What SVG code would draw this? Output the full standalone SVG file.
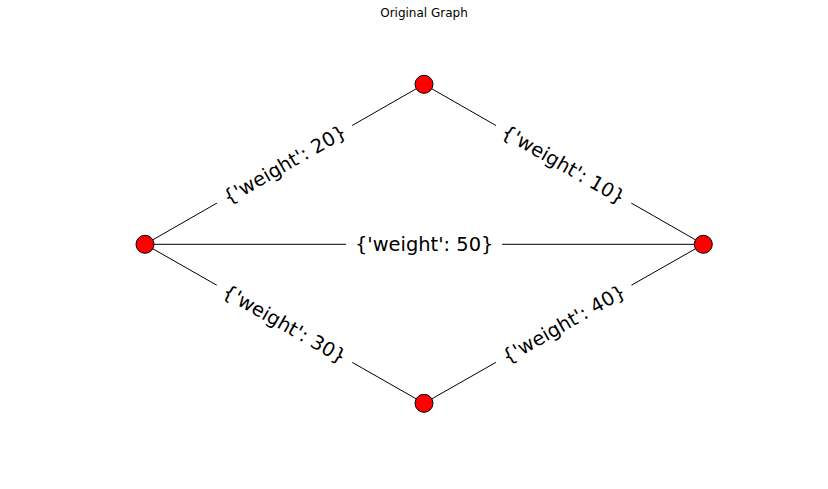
<svg xmlns="http://www.w3.org/2000/svg" width="828" height="489" viewBox="0 0 828 489">
<style>
.edge{stroke:#000;stroke-width:1;fill:none}
.node{fill:#ff0000;stroke:#000;stroke-width:1}
.lbl{font-family:"DejaVu Sans",sans-serif;font-size:19.44px;fill:#000;text-anchor:middle}
.box{fill:#fff;stroke:none}
.title{font-family:"DejaVu Sans",sans-serif;font-size:12px;fill:#000;text-anchor:middle}
</style>
<rect width="828" height="489" fill="#fff"/>
<text class="title" x="424" y="17">Original Graph</text>
<g id="connectors">
<line class="edge" x1="145" y1="244.3" x2="424" y2="84.3"/>
<line class="edge" x1="424" y1="84.3" x2="703.3" y2="244.3"/>
<line class="edge" x1="145" y1="244.3" x2="703.3" y2="244.3"/>
<line class="edge" x1="145" y1="244.3" x2="424" y2="403.3"/>
<line class="edge" x1="424" y1="403.3" x2="703.3" y2="244.3"/>
</g>
<g id="edge-labels">
<g transform="translate(284.5,164.3) rotate(-29.83)"><rect class="box" x="-78" y="-13" width="156" height="26"/><text class="lbl" x="0" y="7">{'weight': 20}</text></g>
<g transform="translate(563.65,164.3) rotate(29.81)"><rect class="box" x="-78" y="-13" width="156" height="26"/><text class="lbl" x="0" y="7">{'weight': 10}</text></g>
<g transform="translate(424.15,244.3)"><rect class="box" x="-78" y="-13" width="156" height="26"/><text class="lbl" x="0" y="7">{'weight': 50}</text></g>
<g transform="translate(284.5,323.8) rotate(29.68)"><rect class="box" x="-78" y="-13" width="156" height="26"/><text class="lbl" x="0" y="7">{'weight': 30}</text></g>
<g transform="translate(563.65,323.8) rotate(-29.66)"><rect class="box" x="-78" y="-13" width="156" height="26"/><text class="lbl" x="0" y="7">{'weight': 40}</text></g>
</g>
<g id="node-left"><circle class="node" cx="145" cy="244.3" r="9"/></g>
<g id="node-top"><circle class="node" cx="424" cy="84.3" r="9"/></g>
<g id="node-right"><circle class="node" cx="703.3" cy="244.3" r="9"/></g>
<g id="node-bottom"><circle class="node" cx="424" cy="403.3" r="9"/></g>
</svg>
